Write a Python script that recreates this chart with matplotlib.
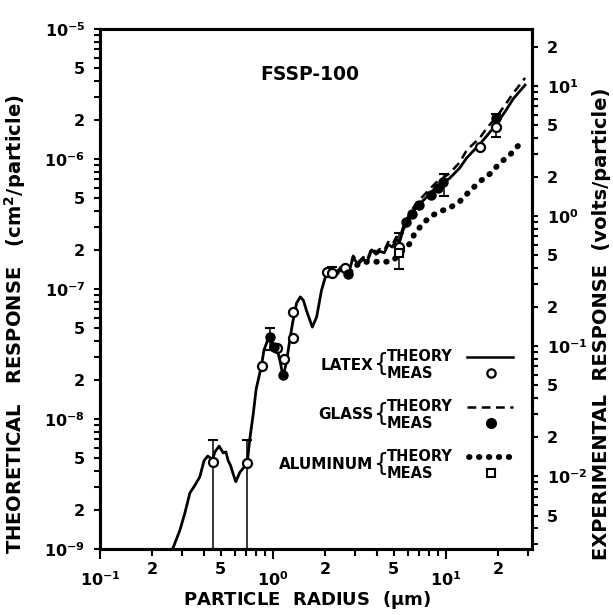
import numpy as np
import matplotlib.pyplot as plt

plt.rcParams['font.family'] = 'DejaVu Sans'
plt.rcParams['font.weight'] = 'bold'
plt.rcParams['mathtext.default'] = 'bf'

# latex theory (solid line)
latex_r = [0.263, 0.29, 0.31, 0.331, 0.354, 0.378, 0.40, 0.42, 0.448, 0.462,
           0.489, 0.516, 0.535, 0.551, 0.569, 0.589, 0.61, 0.644, 0.674, 0.71,
           0.736, 0.77, 0.80, 0.86, 0.888, 0.93, 0.962, 1.0, 1.06, 1.1,
           1.146, 1.2, 1.25, 1.30, 1.37, 1.44, 1.5, 1.56, 1.69, 1.79,
           1.91, 2.04, 2.2, 2.35, 2.55, 2.75, 2.91, 3.1, 3.33, 3.5,
           3.72, 3.95, 4.15, 4.4, 4.64, 4.9, 5.18, 5.4, 5.66, 6.2,
           6.77, 7.4, 8.1, 8.8, 9.7, 10.5, 12.0, 13.2, 15.7, 17.2,
           19.6, 22.4, 24.5, 28.7]
latex_th = [1.0e-9, 1.4e-9, 1.9e-9, 2.7e-9, 3.1e-9, 3.6e-9, 4.8e-9, 5.2e-9, 4.9e-9, 5.6e-9,
            6.2e-9, 5.5e-9, 5.6e-9, 4.8e-9, 4.4e-9, 3.8e-9, 3.3e-9, 3.9e-9, 4.2e-9, 4.6e-9,
            7.1e-9, 1.1e-8, 1.7e-8, 2.6e-8, 3.4e-8, 4.0e-8, 4.3e-8, 3.7e-8, 3.4e-8, 2.8e-8,
            2.1e-8, 2.8e-8, 4.0e-8, 5.5e-8, 7.8e-8, 8.7e-8, 8.2e-8, 6.9e-8, 5.1e-8, 6.1e-8,
            9.8e-8, 1.32e-7, 1.42e-7, 1.3e-7, 1.5e-7, 1.35e-7, 1.75e-7, 1.55e-7, 1.7e-7, 1.6e-7,
            2.0e-7, 1.85e-7, 1.95e-7, 1.9e-7, 2.2e-7, 2.1e-7, 2.4e-7, 2.3e-7, 2.85e-7, 3.6e-7,
            4.3e-7, 4.8e-7, 5.4e-7, 6.1e-7, 6.6e-7, 7.1e-7, 8.5e-7, 1.02e-6, 1.3e-6, 1.5e-6,
            1.85e-6, 2.4e-6, 2.9e-6, 3.7e-6]

# glass theory (dashed)
glass_r = [2.0, 2.2, 2.35, 2.55, 2.75, 2.91, 3.1, 3.33, 3.5, 3.72,
           3.95, 4.15, 4.4, 4.64, 4.9, 5.18, 5.4, 5.66, 6.2, 6.77,
           7.4, 8.1, 8.8, 9.7, 10.5, 12.0, 13.2, 15.7, 17.2, 19.6,
           22.4, 24.5, 28.7]
glass_th = [1.3e-7, 1.47e-7, 1.36e-7, 1.56e-7, 1.42e-7, 1.8e-7, 1.6e-7, 1.76e-7, 1.66e-7, 2.07e-7,
            1.92e-7, 2.03e-7, 1.98e-7, 2.3e-7, 2.2e-7, 2.52e-7, 2.45e-7, 3.0e-7, 3.85e-7, 4.6e-7,
            5.2e-7, 5.9e-7, 6.6e-7, 7.2e-7, 7.75e-7, 9.4e-7, 1.17e-6, 1.45e-6, 1.72e-6, 2.1e-6,
            2.7e-6, 3.2e-6, 4.2e-6]

# aluminum theory (dotted)
al_r = [2.8, 3.0, 3.18, 3.5, 4.0, 4.5, 4.95, 5.42, 6.2, 6.6, 7.4,
        8.1, 9.2, 10.5, 12.0, 13.8, 15.7, 18.0, 20.5, 23.4, 26.8]
al_th = [1.35e-7, 1.5e-7, 1.58e-7, 1.62e-7, 1.62e-7, 1.62e-7, 1.65e-7, 1.88e-7, 2.24e-7, 2.68e-7, 3.2e-7,
         3.6e-7, 3.94e-7, 4.2e-7, 4.7e-7, 5.7e-7, 6.7e-7, 7.7e-7, 9.3e-7, 1.07e-6, 1.31e-6]

# measurements
latex_mr = [0.448, 0.71, 0.86, 1.06, 1.156, 1.31, 1.30, 2.05, 2.21, 2.6, 5.37, 15.7, 19.6]
latex_mv = [4.7e-9, 4.6e-9, 2.56e-8, 3.5e-8, 2.9e-8, 4.2e-8, 6.7e-8, 1.35e-7, 1.34e-7, 1.45e-7, 2.1e-7, 1.24e-6, 1.75e-6]
glass_mr = [0.965, 1.02, 1.15, 2.73, 5.9, 6.4, 7.0, 8.2, 9.0, 9.6, 19.4]
glass_mv = [4.3e-8, 3.6e-8, 2.2e-8, 1.3e-7, 3.3e-7, 3.8e-7, 4.4e-7, 5.3e-7, 6.0e-7, 6.7e-7, 2.05e-6]
al_mr = [5.37]
al_mv = [1.88e-7]

# error bars
err_r = [0.448, 0.71, 0.965, 2.21, 5.37, 9.7, 19.6]
err_lo = [1e-9, 1e-9, 3.4e-8, 1.25e-7, 1.42e-7, 5.2e-7, 1.48e-6]
err_hi = [6.9e-9, 6.9e-9, 5.0e-8, 1.47e-7, 2.7e-7, 7.7e-7, 2.2e-6]

fig = plt.figure(figsize=(6.13, 6.15), dpi=100)
ax = fig.add_axes([0.163, 0.107, 0.705, 0.846])
ax.set_xscale('log')
ax.set_yscale('log')
ax.set_xlim(0.1, 31.5)
ax.set_ylim(1e-9, 1e-5)

ax.plot(latex_r, latex_th, '-', color='k', lw=2.0, solid_joinstyle='round')
ax.plot(glass_r, glass_th, color='k', lw=1.8, dashes=(3.5, 2.2))
ax.plot(al_r, al_th, color='k', lw=4.2, dashes=(0.1, 1.6), dash_capstyle='round')
ax.vlines(err_r, err_lo, err_hi, color='k', lw=1.1)
ax.plot(err_r, err_hi, '_', color='k', ms=7, mew=1.5)
ax.plot(err_r, err_lo, '_', color='k', ms=7, mew=1.5)
ax.plot(latex_mr, latex_mv, 'o', mfc='white', mec='k', ms=6.5, mew=1.6)
ax.plot(glass_mr, glass_mv, 'o', color='k', ms=6.5)
ax.plot(al_mr, al_mv, 's', mfc='white', mec='k', ms=5.5, mew=1.5)

# ticks
ax.set_xticks([0.1, 1, 10], labels=['$10^{-1}$', '$10^{0}$', '$10^{1}$'])
xm = [k * 10.0**e for e in (-1, 0, 1) for k in range(2, 10) if k * 10.0**e < 31.5]
ax.set_xticks(xm, labels=[('%g' % (v / 10**np.floor(np.log10(v) + 1e-9)))
                          if round(v / 10**np.floor(np.log10(v) + 1e-9)) in (2, 5) else '' for v in xm],
              minor=True)
ax.set_yticks([10.0**e for e in range(-9, -4)],
              labels=['$10^{%d}$' % e for e in range(-9, -4)])
ym = [k * 10.0**e for e in range(-9, -5) for k in range(2, 10)]
ax.set_yticks(ym, labels=[str(k) if k in (2, 5) else '' for e in range(-9, -5) for k in range(2, 10)],
              minor=True)
ax.tick_params(axis='x', which='major', length=7, width=1.5, pad=8, labelsize=11.5)
ax.tick_params(axis='x', which='minor', length=5, width=1.5, pad=4, labelsize=11.5)
ax.tick_params(axis='y', which='both', length=4.5, width=1.5, pad=6, labelsize=11.5)
ax.tick_params(top=False)
for s in ax.spines.values():
    s.set_linewidth(2.2)

ax2 = ax.twinx()
ax2.set_yscale('log')
ax2.set_ylim(1e-9 * 10**6.44, 1e-5 * 10**6.44)
ax2.set_yticks([1e-2, 1e-1, 1, 10], labels=['$10^{-2}$', '$10^{-1}$', '$10^{0}$', '$10^{1}$'])
rm = [k * 10.0**e for e in (-3, -2, -1, 0, 1) for k in range(2, 10)]
rm = [v for v in rm if 10**-2.56 < v < 10**1.44]
ax2.set_yticks(rm, labels=[('%d' % round(v / 10**np.floor(np.log10(v) + 1e-9)))
                           if round(v / 10**np.floor(np.log10(v) + 1e-9)) in (2, 5) else '' for v in rm],
               minor=True)
ax2.tick_params(axis='y', which='both', length=4.5, width=1.5, pad=6, labelsize=11.5)
for s in ax2.spines.values():
    s.set_linewidth(2.2)

# labels
fig.text(0.024, 0.473, 'THEORETICAL   RESPONSE   (cm$^{2}$/particle)', rotation=90,
         ha='center', va='center', fontsize=14)
fig.text(0.981, 0.474, 'EXPERIMENTAL  RESPONSE  (volts/particle)', rotation=90,
         ha='center', va='center', fontsize=14)
fig.text(0.5, 0.017, 'PARTICLE  RADIUS  ($\\mu$m)', ha='center', va='baseline', fontsize=13)
ax.text(0.486, 0.912, 'FSSP-100', transform=ax.transAxes, ha='center', va='center', fontsize=13.5)

# legend drawn by hand
leg = [('LATEX', 0.354), ('GLASS', 0.258), ('ALUMINUM', 0.162)]
for name, yy in leg:
    ax.text(0.632, yy, name, transform=ax.transAxes, ha='right', va='center', fontsize=11)
    ax.text(0.632, yy + 0.002, '{', transform=ax.transAxes, ha='left', va='center', fontsize=17,
            fontweight='normal')
    ax.text(0.664, yy + 0.0165, 'THEORY', transform=ax.transAxes, ha='left', va='center', fontsize=10.5)
    ax.text(0.664, yy - 0.0165, 'MEAS', transform=ax.transAxes, ha='left', va='center', fontsize=10.5)
ax.plot([0.85, 0.955], [0.370, 0.370], '-', color='k', lw=1.8, transform=ax.transAxes)
ax.plot([0.85, 0.955], [0.274, 0.274], color='k', lw=1.8, dashes=(3.5, 2.2), transform=ax.transAxes)
ax.plot([0.853, 0.96], [0.178, 0.178], color='k', lw=4.2, dashes=(0.1, 1.6),
        dash_capstyle='round', transform=ax.transAxes)
ax.plot([0.904], [0.339], 'o', mfc='white', mec='k', ms=6, mew=1.6, transform=ax.transAxes)
ax.plot([0.904], [0.243], 'o', color='k', ms=7, transform=ax.transAxes)
ax.plot([0.904], [0.147], 's', mfc='white', mec='k', ms=5.5, mew=1.5, transform=ax.transAxes)

fig.savefig('out.png', dpi=100)
